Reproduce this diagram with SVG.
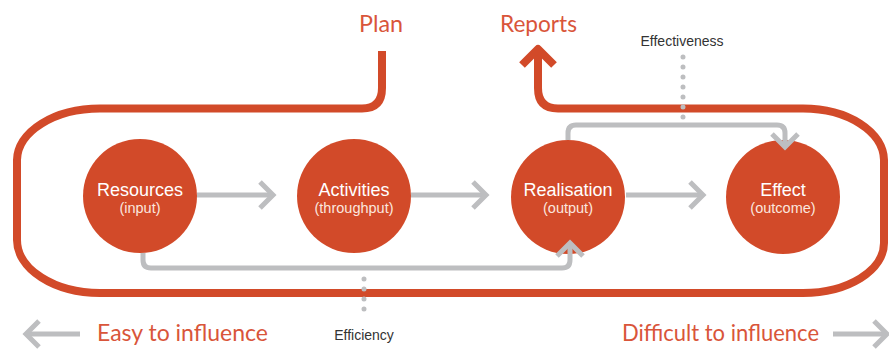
<svg xmlns="http://www.w3.org/2000/svg" width="889" height="349" viewBox="0 0 889 349">
  <defs>
    <style>
      .loop { fill: none; stroke: #d24a29; stroke-width: 8; stroke-linecap: butt; stroke-linejoin: round; }
      .flow { fill: none; stroke: #bdbec0; stroke-width: 5; stroke-linecap: butt; stroke-linejoin: round; }
      .head { fill: none; stroke: #bdbec0; stroke-width: 5; stroke-linecap: butt; stroke-linejoin: miter; }
      .dots { fill: none; stroke: #bdbec0; stroke-width: 5; stroke-linecap: round; stroke-dasharray: 0 10; }
      .node { fill: #d24a29; }
      .title { font-family: "Liberation Sans", Arial, sans-serif; font-size: 18px; fill: #ffffff; text-anchor: middle; }
      .sub { font-family: "Liberation Sans", Arial, sans-serif; font-size: 14.5px; fill: #fbe6df; text-anchor: middle; }
      .big { font-family: Lato, "Liberation Sans", sans-serif; font-size: 23.5px; fill: #d9553a; }
      .note { font-family: "Liberation Sans", Arial, sans-serif; font-size: 14px; fill: #333333; text-anchor: middle; }
    </style>
  </defs>

  <!-- Plan / Reports cycle -->
  <g id="cycle">
    <path class="loop" d="M382 51 L382 88 Q382 108.5 362 108.5 L100 108.5 A83 52 0 0 0 17 160 L17 240 A83 53 0 0 0 100 293 L803 293 A81 50 0 0 0 884 243 L884 160 A81 52 0 0 0 803 108.5 L558 108.5 Q538 108.5 538 88 L538 52"/>
    <path class="loop" d="M522 65 L538 49 L554 65" stroke-linejoin="miter"/>
  </g>

  <g id="resources">
    <circle class="node" cx="140" cy="196" r="57"/>
    <text class="title" x="140" y="196">Resources</text>
    <text class="sub" x="140" y="213">(input)</text>
  </g>
  <g id="activities">
    <circle class="node" cx="354" cy="196" r="57"/>
    <text class="title" x="354" y="196">Activities</text>
    <text class="sub" x="354" y="213">(throughput)</text>
  </g>
  <g id="realisation">
    <circle class="node" cx="568" cy="197" r="57"/>
    <text class="title" x="568" y="196">Realisation</text>
    <text class="sub" x="568" y="213">(output)</text>
  </g>
  <g id="effect">
    <circle class="node" cx="783" cy="197" r="57"/>
    <text class="title" x="783" y="196">Effect</text>
    <text class="sub" x="783" y="213">(outcome)</text>
  </g>

  <!-- connectors, drawn over the circles so the heads stay visible -->
  <g id="connectors">
    <path class="flow" d="M197 195 L273 195"/>
    <path class="head" d="M260 182 L273 195 L260 208"/>
    <path class="flow" d="M411 195 L486 195"/>
    <path class="head" d="M473 182 L486 195 L473 208"/>
    <path class="flow" d="M626 195 L703 195"/>
    <path class="head" d="M690 182 L703 195 L690 208"/>

    <!-- efficiency link -->
    <path class="flow" d="M143 253 L143 260 Q143 268 151 268 L562 268 Q570 268 570 260 L570 245"/>
    <path class="head" d="M557 256 L570 243 L583 256"/>

    <!-- effectiveness link -->
    <path class="flow" d="M568 140 L568 133 Q568 125 576 125 L777 125 Q785 125 785 133 L785 146"/>
    <path class="head" d="M772 134 L785 147 L798 134"/>

    <!-- dotted markers -->
    <path class="dots" d="M683 57 L683 118"/>
    <path class="dots" d="M364 279 L364 318"/>

    <!-- influence scale -->
    <path class="flow" d="M80 334 L26 334"/>
    <path class="head" d="M39 321 L26 334 L39 347"/>
    <path class="flow" d="M833 334 L885 334"/>
    <path class="head" d="M874 321 L887 334 L874 347"/>
  </g>

  <g id="labels">
    <text class="big" x="359" y="32" textLength="44" lengthAdjust="spacingAndGlyphs">Plan</text>
    <text class="big" x="500" y="32" textLength="77" lengthAdjust="spacingAndGlyphs">Reports</text>
    <text class="note" x="682" y="46">Effectiveness</text>
    <text class="note" x="364" y="340">Efficiency</text>
    <text class="big" x="97" y="341" textLength="171" lengthAdjust="spacingAndGlyphs">Easy to influence</text>
    <text class="big" x="622" y="341" textLength="197" lengthAdjust="spacingAndGlyphs">Difficult to influence</text>
  </g>
</svg>
